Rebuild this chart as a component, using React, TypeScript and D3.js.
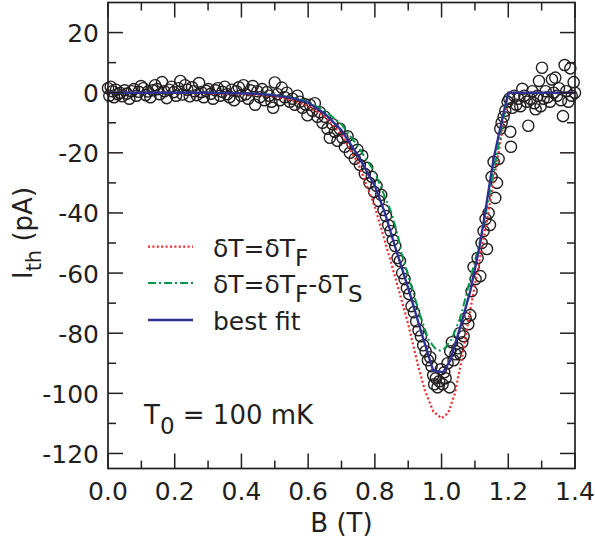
import React from "react";
import * as d3 from "d3";

// Measured thermal current I_th (pA) vs magnetic field B (T)
const measured: [number, number][] = [
  [0.000,1.5],[0.004,-1],[0.008,2],[0.013,0.5],[0.018,-1.5],[0.024,1],[0.030,-0.5],[0.036,0],[0.043,-1.2],[0.050,0.8],
  [0.057,-0.3],[0.064,-2],[0.071,0.5],[0.078,1.2],[0.085,-1],[0.092,0.3],[0.099,2.2],[0.106,1.5],[0.113,-0.8],[0.120,0.4],
  [0.127,-1.5],[0.134,0.8],[0.141,2.5],[0.148,1.2],[0.155,-0.5],[0.162,3.5],[0.169,0.5],[0.176,-1.8],[0.183,1],[0.190,2],
  [0.197,0.2],[0.204,-1],[0.211,1.5],[0.217,3.9],[0.224,-0.6],[0.231,2.5],[0.238,1],[0.245,-1.2],[0.252,1.8],[0.259,0.5],
  [0.266,-0.8],[0.273,3.2],[0.280,0.2],[0.287,-1.5],[0.294,0.6],[0.301,1.2],[0.308,-0.4],[0.315,-2],[0.322,0.8],[0.329,1.5],
  [0.336,-1],[0.343,0.3],[0.350,2],[0.357,-0.5],[0.364,-1.5],[0.371,1],[0.378,-2.5],[0.385,0.5],[0.392,1.8],[0.399,-1],
  [0.406,2.5],[0.413,-0.5],[0.420,-2],[0.427,0.8],[0.434,2.2],[0.441,-4],[0.448,0.5],[0.455,-1.5],[0.462,1.2],[0.469,-2.5],
  [0.476,0.2],[0.483,-1],[0.490,-3],[0.495,-5],[0.500,3.4],[0.508,-0.5],[0.515,-2.5],[0.521,1.7],[0.530,-1.5],[0.536,0],
  [0.545,-3],[0.553,-2],[0.560,-4],[0.568,-1],[0.575,-3],[0.583,-5],[0.591,-3.9],[0.598,-7.5],[0.605,-4],[0.613,-6],
  [0.620,-3.5],[0.628,-8],[0.635,-6.5],[0.643,-10],[0.650,-8],[0.658,-12],[0.665,-15],[0.673,-10.5],[0.680,-13],[0.688,-16],
  [0.695,-12],[0.703,-15],[0.710,-18],[0.718,-14.5],[0.725,-20],[0.733,-17],[0.740,-22],[0.748,-19],[0.755,-24],[0.762,-21],
  [0.770,-27],[0.777,-25],[0.784,-30],[0.791,-28],[0.798,-33],[0.805,-31],[0.812,-36],[0.819,-34],[0.826,-39],[0.833,-41],
  [0.840,-44],[0.847,-46],[0.854,-49],[0.861,-51],[0.868,-55],[0.875,-56],[0.882,-60],[0.889,-62],[0.896,-65],[0.903,-67],
  [0.910,-71],[0.917,-73],[0.924,-76],[0.931,-79],[0.938,-81],[0.945,-84],[0.952,-86],[0.959,-89],[0.966,-88],[0.970,-91],
  [0.975,-94],[0.978,-97],[0.983,-95],[0.988,-98],[0.993,-96],[0.998,-92],[1.003,-97],[1.008,-93],[1.012,-95],[1.018,-90],
  [1.024,-98],[1.026,-86],[1.031,-83],[1.036,-89],[1.042,-87],[1.048,-85],[1.054,-80],[1.056,-87],[1.062,-83],[1.066,-81],
  [1.072,-75],[1.080,-77],[1.086,-74],[1.090,-66],[1.096,-58],[1.102,-62],[1.108,-55],[1.116,-61],[1.120,-50],[1.126,-46],
  [1.132,-42],[1.136,-52],[1.141,-40],[1.145,-44],[1.150,-28],[1.156,-23],[1.161,-35],[1.166,-30],[1.171,-22],[1.176,-12],
  [1.180,-10],[1.186,-8],[1.191,-6],[1.198,-3],[1.203,-2],[1.206,-13],[1.208,-18],[1.212,-5],[1.218,-1],[1.224,-4],
  [1.230,-2],[1.236,-4.5],[1.242,1.3],[1.248,-1],[1.255,-3],[1.260,-11],[1.266,-2],[1.272,0.5],[1.278,-3.5],[1.282,-5.5],
  [1.288,-1],[1.292,3.9],[1.297,-4.5],[1.301,8.3],[1.306,-2],[1.312,0.5],[1.318,-1.5],[1.325,-3],[1.331,4.4],[1.336,0],
  [1.341,5],[1.346,-1],[1.352,1.5],[1.358,-2.5],[1.364,-7.8],[1.369,9.2],[1.374,0.5],[1.380,-3],[1.386,8.1],[1.390,-1],
  [1.396,3.5],[1.400,0],
];

// Model curves: dT = dT_F (red dotted)
const fieldF = [0,0.1,0.2,0.3,0.4,0.45,0.5,0.55,0.6,0.65,0.7,0.75,0.8,0.85,0.9,0.93,0.95,0.975,1.0,1.02,1.04,1.06,1.08,1.1,1.12,1.14,1.16,1.18,1.2,1.3,1.4];
const currentF = [0,0,-0.1,-0.2,-0.5,-0.8,-1.3,-2.4,-4.5,-8,-14,-23.5,-38,-57,-77,-91,-99,-106,-108.3,-106.5,-100,-89,-76,-64,-52,-40,-27,-14,0,0,0];

// dT = dT_F - dT_S (green dash-dot)
const fieldFS = [0,0.1,0.2,0.3,0.4,0.45,0.5,0.55,0.6,0.65,0.7,0.75,0.8,0.85,0.87,0.88,0.9,0.93,0.96,0.98,0.995,1.01,1.03,1.056,1.086,1.116,1.14,1.16,1.18,1.2,1.3,1.4];
const currentFS = [0,0,0,0,-0.2,-0.4,-0.8,-1.5,-3,-6,-10.5,-18,-26.5,-40,-48,-53.5,-61,-72,-82,-85,-85.8,-85,-82,-75,-62,-49,-36,-24,-12,0,0,0];

// best fit (blue solid)
const fieldFit = [0,0.1,0.2,0.3,0.4,0.45,0.5,0.55,0.6,0.65,0.7,0.75,0.8,0.83,0.86,0.9,0.94,0.975,1.005,1.026,1.056,1.086,1.116,1.136,1.156,1.186,1.2,1.3,1.4];
const currentFit = [0,0,0,0,-0.2,-0.4,-0.9,-1.7,-3.3,-7,-12.5,-21,-31,-40,-51,-65,-80,-92.5,-93,-89,-78,-66,-50,-36,-22,-6.7,0,0,0];

const xTicks = [0, 0.2, 0.4, 0.6, 0.8, 1.0, 1.2, 1.4];
const xMinor = [0.1, 0.3, 0.5, 0.7, 0.9, 1.1, 1.3];
const yTicks = [-120, -100, -80, -60, -40, -20, 0, 20];
const yMinor = [-110, -90, -70, -50, -30, -10, 10];

const INK = "#231f20";
const RED = "#ee2a2f";
const GREEN = "#00994c";
const BLUE = "#2e3192";
const FONT = "DejaVu Sans, Verdana, sans-serif";

export default function App() {
  const left = 108, right = 575, top = 2.5, bottom = 468.5;
  const x = d3.scaleLinear().domain([0, 1.4]).range([left, right]);
  const y = d3.scaleLinear().domain([-125, 30]).range([bottom, top]);
  const line = d3.line<[number, number]>().x(d => x(d[0])).y(d => y(d[1]));
  const zip = (a: number[], b: number[]) => a.map((v, i) => [v, b[i]] as [number, number]);

  const major = 15, minor = 8;

  return (
    <svg width={595} height={538} style={{ position: "absolute", left: 0, top: 0, background: "#fff" }} fontFamily={FONT}>
      <rect width={595} height={538} fill="#fff" />
      {/* data points */}
      <g fill="none" stroke={INK} strokeWidth={1.4}>
        {measured.map((d, i) => (
          <circle key={i} cx={x(d[0])} cy={y(d[1])} r={5.6} />
        ))}
      </g>
      {/* curves */}
      <path d={line(zip(fieldF, currentF)) || ""} fill="none" stroke={RED} strokeWidth={2.2} strokeDasharray="2,2.4" />
      <path d={line(zip(fieldFS, currentFS)) || ""} fill="none" stroke={GREEN} strokeWidth={2} strokeDasharray="8,3,2,3" />
      <path d={line(zip(fieldFit, currentFit)) || ""} fill="none" stroke={BLUE} strokeWidth={2.4} />

      {/* ticks */}
      <g stroke={INK} strokeWidth={1.5}>
        {xTicks.map(t => (
          <g key={"xt" + t}>
            <line x1={x(t)} x2={x(t)} y1={bottom} y2={bottom - major} />
            <line x1={x(t)} x2={x(t)} y1={top} y2={top + major} />
          </g>
        ))}
        {xMinor.map(t => (
          <g key={"xm" + t}>
            <line x1={x(t)} x2={x(t)} y1={bottom} y2={bottom - minor} />
            <line x1={x(t)} x2={x(t)} y1={top} y2={top + minor} />
          </g>
        ))}
        {yTicks.map(t => (
          <g key={"yt" + t}>
            <line x1={left} x2={left + major} y1={y(t)} y2={y(t)} />
            <line x1={right} x2={right - major} y1={y(t)} y2={y(t)} />
          </g>
        ))}
        {yMinor.map(t => (
          <g key={"ym" + t}>
            <line x1={left} x2={left + minor} y1={y(t)} y2={y(t)} />
            <line x1={right} x2={right - minor} y1={y(t)} y2={y(t)} />
          </g>
        ))}
      </g>
      <rect x={left} y={top} width={right - left} height={bottom - top} fill="none" stroke={INK} strokeWidth={1.7} />

      {/* tick labels */}
      <g fill={INK} fontSize={25}>
        {xTicks.map(t => (
          <text key={"xl" + t} x={x(t)} y={500} textAnchor="middle">{t.toFixed(1)}</text>
        ))}
        {yTicks.map(t => (
          <text key={"yl" + t} x={99} y={y(t) + 9.5} textAnchor="end">{t}</text>
        ))}
      </g>

      {/* axis titles */}
      <text x={(left + right) / 2} y={532} textAnchor="middle" fontSize={26} fill={INK}>B (T)</text>
      <text transform={`translate(32,233) rotate(-90)`} textAnchor="middle" fontSize={26} fill={INK}>
        I<tspan dy={9} fontSize={21}>th</tspan><tspan dy={-9}> (pA)</tspan>
      </text>

      {/* legend */}
      <g fontSize={25} fill={INK}>
        <line x1={148} x2={193} y1={246.7} y2={246.7} stroke={RED} strokeWidth={2.2} strokeDasharray="2,2.4" />
        <text x={213} y={256.7}>δT=δT<tspan dy={9} fontSize={23}>F</tspan></text>
        <line x1={148} x2={193} y1={283} y2={283} stroke={GREEN} strokeWidth={2} strokeDasharray="8,3,2,3" />
        <text x={213} y={293}>δT=δT<tspan dy={9} fontSize={23}>F</tspan><tspan dy={-9}>-δT</tspan><tspan dy={9} fontSize={23}>S</tspan></text>
        <line x1={148} x2={193} y1={320} y2={320} stroke={BLUE} strokeWidth={2.4} />
        <text x={213} y={330}>best fit</text>
      </g>

      <text x={144} y={424} fontSize={26} fill={INK}>T<tspan dy={9.5} fontSize={23}>0</tspan><tspan dy={-9.5}> = 100 mK</tspan></text>
    </svg>
  );
}
